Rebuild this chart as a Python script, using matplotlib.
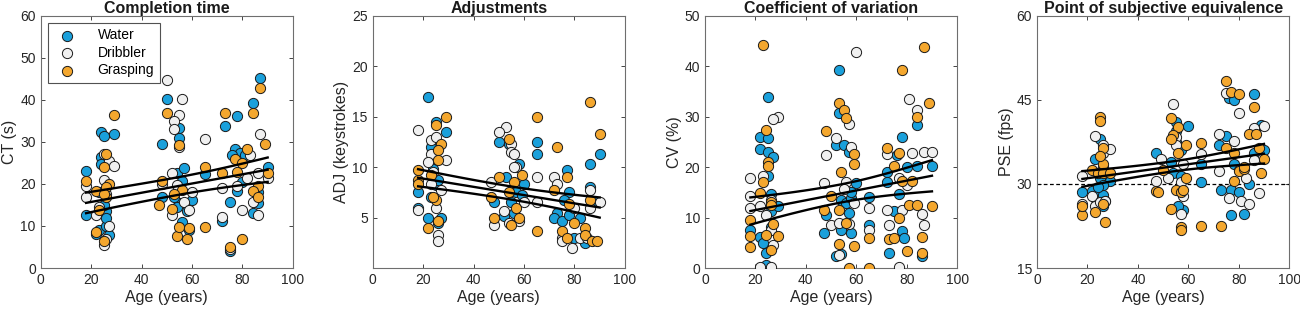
import numpy as np
import matplotlib
matplotlib.use("Agg")
import matplotlib.pyplot as plt

plt.rcParams['font.family'] = ['Liberation Sans', 'DejaVu Sans']

# ---------------- data ----------------
groups = ["Water", "Dribbler", "Grasping"]
colors = {"Water": "#1AA0DB", "Dribbler": "#F0F0F0", "Grasping": "#F4A72E"}

# Completion time (s)
ct_water_age = [18, 18, 24, 25, 24, 24, 23, 23, 26, 26, 27, 26, 29, 22, 25,
                50, 48, 55, 55, 54, 57, 56, 55, 54, 58, 56, 60, 48, 53, 65, 59,
                87, 84, 78, 73, 77, 79, 81, 76, 86, 80, 78, 75, 84, 86, 90, 72, 75]
ct_water = [23.1, 12.5, 32.3, 31.3, 26.5, 24.8, 18.0, 9.0, 13.5, 10.0, 7.8, 12.0, 32.0, 8.0, 15.0,
            40.2, 29.4, 33.3, 31.0, 22.5, 23.8, 20.8, 15.5, 14.5, 13.5, 11.0, 16.3, 16.8, 17.0, 22.3, 9.0,
            45.2, 39.3, 36.2, 33.7, 28.3, 27.3, 26.8, 27.0, 18.0, 20.5, 18.3, 15.8, 13.0, 15.5, 24.0, 11.3, 4.0]
ct_drib_age = [18, 18, 25, 25, 27, 29, 22, 26, 25, 23, 27, 26,
               50, 56, 55, 53, 53, 55, 65, 48, 52, 57, 59, 52, 54, 60,
               87, 83, 86, 72, 80, 84, 86, 72, 90, 75, 78, 82]
ct_drib = [19.5, 16.8, 27.2, 21.0, 25.5, 24.3, 12.5, 7.0, 5.5, 14.5, 10.0, 17.5,
           44.8, 40.2, 36.5, 35.0, 33.0, 28.8, 30.8, 20.0, 22.5, 15.8, 13.8, 12.7, 19.8, 18.0,
           31.8, 26.8, 22.5, 19.0, 13.8, 15.7, 12.7, 12.2, 21.5, 4.5, 19.5, 21.5]
ct_grasp_age = [18, 29, 26, 25, 27, 26, 26, 22, 23, 22, 25, 25,
                50, 55, 48, 47, 52, 54, 55, 58, 59, 65, 65, 56, 53,
                87, 84, 73, 89, 82, 77, 80, 78, 72, 90, 86, 84, 86, 80, 75]
ct_grasp = [20.7, 36.3, 27.2, 24.0, 20.0, 19.2, 16.8, 18.3, 13.8, 8.5, 6.5, 17.5,
            36.9, 29.3, 20.7, 15.0, 14.0, 7.7, 9.8, 6.8, 9.6, 9.7, 24.0, 18.5, 17.5,
            42.9, 36.8, 37.0, 29.5, 28.4, 26.0, 25.0, 22.8, 22.5, 22.5, 19.5, 18.4, 16.8, 7.0, 5.0]

# Adjustments (keystrokes)
adj_water_age = [22, 25, 29, 23, 18, 18, 22, 27, 26, 25, 24, 26, 23,
                 50, 54, 65, 65, 58, 60, 53, 48, 55, 56, 57, 52, 59,
                 90, 86, 77, 78, 86, 73, 72, 75, 78, 80, 82, 84, 76, 88]
adj_water = [17.0, 14.5, 13.5, 12.0, 7.5, 6.0, 5.0, 5.0, 4.5, 8.2, 9.8, 8.7, 7.0,
             12.5, 12.3, 12.5, 11.3, 10.3, 8.3, 9.0, 6.5, 6.5, 5.5, 7.5, 5.2, 7.2,
             11.3, 10.3, 9.7, 7.5, 8.0, 5.5, 5.0, 4.7, 5.3, 3.0, 5.0, 2.5, 6.7, 6.5]
adj_drib_age = [18, 23, 25, 23, 29, 22, 18, 25, 26, 26, 27, 24, 23,
                53, 50, 55, 55, 56, 57, 56, 65, 47, 48, 54, 52, 60, 65, 58,
                72, 73, 86, 90, 80, 75, 75, 79, 82, 85, 86]
adj_drib = [13.7, 12.7, 13.0, 11.3, 10.7, 10.5, 5.8, 6.0, 3.3, 2.7, 7.7, 9.5, 8.3,
            14.0, 13.5, 12.3, 11.5, 11.3, 10.0, 10.0, 9.0, 8.5, 4.3, 4.5, 5.7, 6.5, 6.5, 4.7,
            9.0, 8.3, 7.7, 6.5, 6.0, 3.0, 2.7, 2.0, 3.0, 3.0, 6.0]
adj_grasp_age = [29, 25, 27, 26, 26, 18, 18, 18, 22, 26, 25, 24, 23,
                 65, 54, 59, 50, 56, 47, 48, 54, 58, 55, 65, 57,
                 86, 73, 90, 77, 72, 86, 78, 80, 84, 75, 77, 84, 87, 89]
adj_grasp = [15.0, 14.2, 12.3, 11.7, 10.7, 9.7, 8.7, 8.3, 4.0, 4.7, 6.7, 7.0, 9.2,
             15.0, 12.8, 9.2, 9.0, 8.5, 7.0, 5.0, 7.5, 5.0, 4.3, 3.7, 6.0,
             16.5, 12.0, 13.3, 9.0, 7.7, 6.7, 6.3, 4.5, 4.0, 3.7, 3.0, 3.3, 2.7, 2.7]

# Coefficient of variation (%)
cv_water_age = [25, 22, 25, 22, 25, 27, 25, 26, 26, 29, 18, 22, 26, 24, 24, 23,
                53, 53, 52, 55, 57, 60, 54, 56, 57, 58, 48, 47, 54, 58, 52, 54, 65, 65, 58,
                78, 84, 72, 80, 84, 90, 72, 77, 75, 78, 79, 73, 86, 76]
cv_water = [34.0, 26.0, 25.8, 23.7, 23.0, 22.0, 18.3, 14.7, 11.3, 12.2, 7.5, 6.2, 8.2, 3.0, 0.5, 5.0,
            39.3, 30.7, 24.3, 24.3, 23.0, 16.8, 13.5, 12.8, 11.0, 13.8, 10.5, 7.0, 7.5, 7.0, 2.3, 2.8, 14.0, 8.5, 15.0,
            26.0, 28.3, 19.0, 20.0, 20.3, 20.3, 17.0, 14.7, 11.3, 7.3, 6.0, 3.0, 2.3, 22.5]
cv_drib_age = [29, 27, 18, 18, 18, 22, 23, 26, 27, 22, 26, 24, 26,
               60, 57, 52, 48, 58, 47, 56, 55, 50, 59, 53, 57, 65, 65, 53,
               81, 84, 72, 82, 87, 90, 77, 80, 72, 78, 73, 86, 87, 77]
cv_drib = [30.0, 29.5, 17.8, 14.2, 12.0, 12.2, 18.3, 13.5, 4.5, 0.2, 0.2, 10.5, 7.5,
           42.8, 28.5, 25.8, 22.5, 24.0, 16.8, 17.0, 15.7, 8.5, 12.8, 9.0, 8.7, 12.0, 7.5, 2.5,
           33.6, 31.3, 22.7, 22.8, 23.0, 23.0, 17.8, 16.5, 11.5, 11.5, 8.5, 10.8, 8.5, 0.2]
cv_grasp_age = [23, 24, 25, 25, 23, 22, 26, 18, 18, 18, 29, 26, 27, 24, 26,
                53, 55, 56, 48, 59, 59, 54, 50, 47, 53, 56, 59, 53, 57, 65, 65,
                87, 78, 89, 84, 72, 77, 75, 82, 78, 81, 84, 90, 77, 73, 75, 80, 86, 86]
cv_grasp = [44.2, 27.3, 21.0, 20.3, 17.0, 14.8, 13.0, 9.5, 6.3, 4.2, 6.4, 3.5, 8.7, 6.5, 12.5,
            32.8, 31.3, 29.8, 27.2, 22.7, 20.7, 19.0, 14.2, 11.5, 11.5, 9.0, 4.3, 4.7, 0.0, 0.0, 6.0,
            43.8, 39.2, 32.8, 30.0, 23.8, 22.8, 20.3, 17.3, 17.3, 12.5, 12.5, 12.2, 10.0, 5.8, 6.0, 3.3, 6.2, 3.0]

# Point of subjective equivalence (fps)
pse_water_age = [25, 23, 25, 18, 22, 23, 24, 26, 26, 27, 29, 26, 24,
                 55, 60, 55, 55, 57, 47, 53, 54, 57, 65, 65, 58, 56,
                 86, 76, 78, 75, 72, 89, 78, 73, 77, 80, 84, 77, 82, 90, 86]
pse_water = [38.0, 34.5, 31.0, 28.5, 28.7, 27.5, 28.0, 28.0, 26.0, 27.0, 30.5, 29.8, 29.5,
             41.0, 40.3, 39.5, 37.5, 36.0, 35.5, 34.0, 32.0, 31.5, 33.5, 30.3, 25.3, 26.0,
             46.0, 45.3, 45.0, 38.5, 37.0, 40.5, 33.5, 29.0, 29.0, 28.5, 30.0, 24.5, 24.7, 36.0, 35.5]
pse_drib_age = [18, 18, 23, 26, 29, 26, 22, 23, 25, 27, 24, 26,
                54, 55, 49, 52, 57, 58, 65, 47, 58, 57, 55,
                75, 80, 72, 78, 86, 90, 72, 83, 76, 81, 84, 88, 80, 86]
pse_drib = [31.5, 26.5, 38.5, 35.5, 36.3, 37.0, 27.8, 26.0, 26.8, 27.0, 32.0, 33.0,
            44.3, 38.3, 34.5, 31.0, 30.3, 33.5, 35.3, 30.5, 27.8, 24.7, 37.0,
            46.3, 42.7, 39.0, 37.7, 40.0, 40.3, 32.3, 31.0, 27.5, 27.0, 26.5, 28.3, 32.5, 34.3]
pse_grasp_age = [25, 25, 26, 26, 22, 24, 26, 29, 18, 23, 26, 27, 18, 25,
                 53, 56, 54, 53, 59, 65, 50, 56, 47, 48, 55, 57, 58, 53, 57, 57, 65, 59,
                 75, 77, 80, 86, 84, 87, 75, 78, 88, 80, 90, 82, 78, 89, 73, 82]
pse_grasp = [42.0, 41.2, 36.5, 33.5, 32.5, 32.0, 32.0, 32.0, 24.5, 25.0, 26.5, 23.2, 26.0, 35.0,
             41.7, 40.2, 38.7, 38.0, 37.0, 37.3, 32.5, 35.5, 28.8, 28.5, 29.0, 28.5, 29.0, 25.5, 22.3, 21.7, 22.5, 31.0,
             48.3, 46.5, 46.0, 43.8, 39.0, 39.0, 36.5, 35.5, 36.5, 32.3, 34.5, 32.7, 30.5, 32.0, 22.5, 33.0]

# Regression fit (age 18 -> 90): mean line and 95% CI half-widths
fit_age = [18, 90]
fit_center_age = 54
ct_fit = [15.5, 23.4];   ct_ci_end = [2.45, 2.9];  ct_ci_mid = 2.1
adj_fit = [8.95, 6.0];   adj_ci_end = [0.85, 1.0]; adj_ci_mid = 0.65
cv_fit = [11.3, 18.3];   cv_ci_end = [2.7, 3.1];   cv_ci_mid = 1.8
pse_fit = [30.9, 35.4];  pse_ci_end = [1.4, 1.75]; pse_ci_mid = 0.9

panels = [
    dict(title="Completion time", ylabel="CT (s)", ylim=(0, 60), yticks=[0, 10, 20, 30, 40, 50, 60],
         data={"Water": (ct_water_age, ct_water), "Dribbler": (ct_drib_age, ct_drib),
               "Grasping": (ct_grasp_age, ct_grasp)},
         fit=ct_fit, ci_end=ct_ci_end, ci_mid=ct_ci_mid, legend=True, ref=None),
    dict(title="Adjustments", ylabel="ADJ (keystrokes)", ylim=(0, 25), yticks=[5, 10, 15, 20, 25],
         data={"Water": (adj_water_age, adj_water), "Dribbler": (adj_drib_age, adj_drib),
               "Grasping": (adj_grasp_age, adj_grasp)},
         fit=adj_fit, ci_end=adj_ci_end, ci_mid=adj_ci_mid, legend=False, ref=None),
    dict(title="Coefficient of variation", ylabel="CV (%)", ylim=(0, 50), yticks=[0, 10, 20, 30, 40, 50],
         data={"Water": (cv_water_age, cv_water), "Dribbler": (cv_drib_age, cv_drib),
               "Grasping": (cv_grasp_age, cv_grasp)},
         fit=cv_fit, ci_end=cv_ci_end, ci_mid=cv_ci_mid, legend=False, ref=None),
    dict(title="Point of subjective equivalence", ylabel="PSE (fps)", ylim=(15, 60), yticks=[15, 30, 45, 60],
         data={"Water": (pse_water_age, pse_water), "Dribbler": (pse_drib_age, pse_drib),
               "Grasping": (pse_grasp_age, pse_grasp)},
         fit=pse_fit, ci_end=pse_ci_end, ci_mid=pse_ci_mid, legend=False, ref=30),
]

# ---------------- plot ----------------
fig = plt.figure(figsize=(13, 3.12), dpi=100)
lefts = [0.0313, 0.2867, 0.5423, 0.7977]
spine_col = "#6e6e6e"

for left, p in zip(lefts, panels):
    ax = fig.add_axes([left, 0.141, 0.194, 0.808])
    for g in groups:
        xs, ys = p["data"][g]
        ax.scatter(xs, ys, s=54, c=colors[g], edgecolors="#1a1a1a", linewidths=0.7,
                   label=g, zorder=3)
    # regression with CI band
    xx = np.linspace(fit_age[0], fit_age[1], 100)
    slope = (p["fit"][1] - p["fit"][0]) / (fit_age[1] - fit_age[0])
    mid = p["fit"][0] + slope * (xx - fit_age[0])
    he = np.where(xx < fit_center_age, p["ci_end"][0], p["ci_end"][1])
    de = np.where(xx < fit_center_age, fit_center_age - fit_age[0], fit_age[1] - fit_center_age)
    h = np.sqrt(p["ci_mid"] ** 2 + (he ** 2 - p["ci_mid"] ** 2) * ((xx - fit_center_age) / de) ** 2)
    for yy in (mid + h, mid, mid - h):
        ax.plot(xx, yy, color="black", lw=1.7, zorder=4)
    if p["ref"] is not None:
        ax.axhline(p["ref"], color="black", lw=0.9, ls=(0, (3, 2)), zorder=2)

    ax.set_xlim(0, 100)
    ax.set_xticks([0, 20, 40, 60, 80, 100])
    ax.set_ylim(*p["ylim"])
    ax.set_yticks(p["yticks"])
    ax.tick_params(direction="in", top=True, right=True, length=3, width=0.6,
                   colors="#262626", labelsize=10, labelcolor="#262626")
    for sp in ax.spines.values():
        sp.set_color(spine_col)
        sp.set_linewidth(0.8)
    ax.set_title(p["title"], fontsize=11.5, fontweight="bold", pad=2, color="#1a1a1a")
    ax.set_xlabel("Age (years)", fontsize=11.5, labelpad=2, color="#262626")
    ax.set_ylabel(p["ylabel"], fontsize=11.5, labelpad=2, color="#262626")
    if p["legend"]:
        leg = ax.legend(loc="upper left", fontsize=10, frameon=True, fancybox=False,
                        edgecolor="#262626", borderpad=0.4, handletextpad=1.2,
                        borderaxespad=0.5, labelspacing=0.25)
        leg.get_frame().set_linewidth(0.8)

fig.savefig("out.png", dpi=100)
